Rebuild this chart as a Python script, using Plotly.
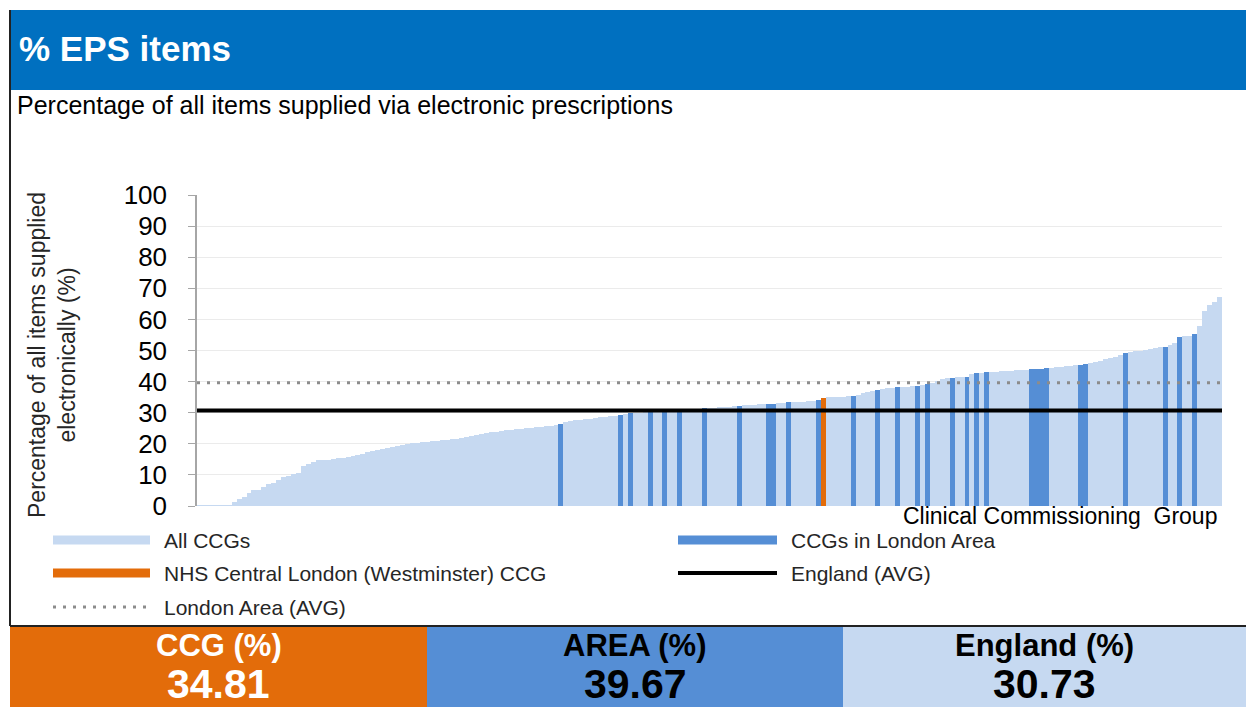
import plotly.graph_objects as go

# ---- data -------------------------------------------------------------
# % of items supplied electronically for every CCG, sorted ascending
eps_pct = [
    0.1, 0.1, 0.2, 0.2, 0.2, 0.3, 0.3, 1.4, 2.2, 3.0,
    4.1, 5.0, 5.2, 6.2, 7.2, 7.4, 8.4, 9.3, 9.6, 10.2,
    10.5, 12.9, 13.6, 14.2, 14.7, 14.8, 14.9, 15.1, 15.3, 15.5,
    15.7, 16.2, 16.4, 16.6, 17.3, 17.6, 18.1, 18.3, 18.6, 18.9,
    19.4, 19.7, 19.9, 20.1, 20.3, 20.5, 20.6, 20.8, 21.0, 21.1,
    21.3, 21.5, 21.7, 22.0, 22.3, 22.6, 22.9, 23.2, 23.4, 23.7,
    23.9, 24.2, 24.3, 24.5, 24.6, 24.8, 25.0, 25.1, 25.3, 25.5,
    25.6, 25.8, 26.0, 26.3, 26.9, 27.3, 27.5, 27.7, 27.9, 28.1,
    28.3, 28.5, 28.7, 28.9, 29.1, 29.3, 29.5, 29.8, 29.9, 30.0,
    30.1, 30.2, 30.3, 30.4, 30.5, 30.6, 30.7, 30.8, 30.9, 31.0,
    31.1, 31.2, 31.4, 31.5, 31.6, 31.7, 31.8, 31.9, 32.1, 32.3,
    32.4, 32.5, 32.6, 32.7, 32.7, 32.8, 32.9, 33.0, 33.2, 33.3,
    33.4, 33.5, 33.6, 33.8, 33.9, 34.1, 34.81, 34.9, 35.0, 35.1,
    35.2, 35.4, 35.5, 35.8, 36.2, 36.6, 37.0, 37.3, 37.5, 37.8,
    38.0, 38.2, 38.3, 38.4, 38.6, 38.7, 38.9, 39.1, 39.6, 40.2,
    40.7, 41.1, 41.3, 41.4, 41.5, 41.6, 42.3, 42.7, 42.8, 43.0,
    43.1, 43.2, 43.3, 43.4, 43.5, 43.6, 43.7, 43.8, 43.9, 44.0,
    44.2, 44.3, 44.5, 44.7, 44.8, 45.0, 45.1, 45.3, 45.5, 45.6,
    46.0, 46.3, 46.6, 47.3, 47.7, 48.0, 48.6, 49.1, 49.5, 49.7,
    49.9, 50.3, 50.6, 50.8, 51.0, 51.2, 51.9, 52.3, 54.4, 54.6,
    54.8, 55.3, 57.9, 62.7, 64.6, 65.7, 67.1,
]

# positions (in the sorted order) of the CCGs in the London area
london_idx = [73, 85, 87, 91, 94, 97, 102, 109, 115, 116, 119, 125, 126,
              132, 137, 141, 145, 147, 152, 155, 157, 159, 168, 169, 170,
              171, 178, 179, 187, 195, 198, 201]
selected_idx = 126          # NHS Central London (Westminster) CCG

ccg_value = 34.81
area_value = 39.67
england_value = 30.73

y_ticks = [0, 10, 20, 30, 40, 50, 60, 70, 80, 90, 100]

title_text = "% EPS items"
subtitle_text = "Percentage of all items supplied via electronic prescriptions"
y_title = "Percentage of all items supplied<br>electronically (%)"
x_title = "Clinical Commissioning  Group"
legend_labels = ["All CCGs", "CCGs in London Area",
                 "NHS Central London (Westminster) CCG", "England (AVG)",
                 "London Area (AVG)"]
box_labels = ["CCG (%)", "AREA (%)", "England (%)"]

# ---- styling ----------------------------------------------------------
W, H = 1246, 707
PL, PR, PT, PB = 197, 1222, 195, 506      # plot area in pixels
FONT = "Arial, Liberation Sans, sans-serif"
C_HEADER = "#0070C0"
C_ALL = "#C6D9F1"
C_LONDON = "#558ED5"
C_SEL = "#E36C0A"
C_AREA_LINE = "#8C8C8C"


def px(x):
    return (x - PL) / (PR - PL)


def py(y):
    return (PB - y) / (PB - PT)


n = len(eps_pct)
xs = list(range(n))
london_vals = [eps_pct[i] if i in london_idx and i != selected_idx else None for i in xs]
sel_vals = [eps_pct[i] if i == selected_idx else None for i in xs]

fig = go.Figure()
fig.add_trace(go.Bar(x=xs, y=eps_pct, marker=dict(color=C_ALL, line_width=0),
                     name=legend_labels[0]))
fig.add_trace(go.Bar(x=xs, y=london_vals, marker=dict(color=C_LONDON, line_width=0),
                     name=legend_labels[1]))
fig.add_trace(go.Bar(x=xs, y=sel_vals, marker=dict(color=C_SEL, line_width=0),
                     name=legend_labels[2]))
fig.add_trace(go.Scatter(x=[-0.5, n - 0.5], y=[area_value, area_value], mode="lines",
                         line=dict(color=C_AREA_LINE, width=3, dash="3px,7px"),
                         name=legend_labels[4]))
fig.add_trace(go.Scatter(x=[-0.5, n - 0.5], y=[england_value, england_value], mode="lines",
                         line=dict(color="black", width=4), name=legend_labels[3]))

shapes = []
annotations = []

# header band and frame
shapes.append(dict(type="rect", xref="paper", yref="paper", layer="below",
                   x0=px(10), x1=px(W + 5), y0=py(90), y1=py(10),
                   fillcolor=C_HEADER, line_width=0))
shapes.append(dict(type="line", xref="paper", yref="paper",
                   x0=px(10), x1=px(10), y0=py(10), y1=py(626),
                   line=dict(color="#222222", width=2)))

annotations.append(dict(text="<b>" + title_text + "</b>", xref="paper", yref="paper",
                        x=px(17), y=py(48), xanchor="left", yanchor="middle",
                        showarrow=False, font=dict(family=FONT, size=35, color="white")))
annotations.append(dict(text=subtitle_text, xref="paper", yref="paper",
                        x=px(15), y=py(105), xanchor="left", yanchor="middle",
                        showarrow=False, font=dict(family=FONT, size=25, color="black")))

# axis titles
annotations.append(dict(text=y_title, xref="paper", yref="paper", textangle=-90,
                        x=px(52), y=py(355), xanchor="center", yanchor="middle",
                        showarrow=False, align="center",
                        font=dict(family=FONT, size=23, color="#262626")))
annotations.append(dict(text=x_title, xref="paper", yref="paper",
                        x=px(1219), y=py(515.5), xanchor="right", yanchor="middle",
                        showarrow=False, font=dict(family=FONT, size=23, color="black")))

# legend
leg_font = dict(family=FONT, size=21, color="#262626")
legend_rows = [
    (53, 150, 540, "rect", C_ALL, legend_labels[0], 162),
    (53, 150, 573, "rect", C_SEL, legend_labels[2], 162),
    (53, 147, 607, "dot", C_AREA_LINE, legend_labels[4], 162),
    (678, 777, 540, "rect", C_LONDON, legend_labels[1], 789),
    (678, 777, 573, "line", "black", legend_labels[3], 789),
]
for x0, x1, yc, kind, col, label, tx in legend_rows:
    if kind == "rect":
        shapes.append(dict(type="rect", xref="paper", yref="paper",
                           x0=px(x0), x1=px(x1), y0=py(yc + 4.5), y1=py(yc - 4.5),
                           fillcolor=col, line_width=0))
    elif kind == "line":
        shapes.append(dict(type="line", xref="paper", yref="paper",
                           x0=px(x0), x1=px(x1), y0=py(yc), y1=py(yc),
                           line=dict(color=col, width=4)))
    else:
        shapes.append(dict(type="line", xref="paper", yref="paper",
                           x0=px(x0), x1=px(x1), y0=py(yc), y1=py(yc),
                           line=dict(color=col, width=3, dash="3px,7px")))
    annotations.append(dict(text=label, xref="paper", yref="paper",
                            x=px(tx), y=py(yc), xanchor="left", yanchor="middle",
                            showarrow=False, font=leg_font))

# summary boxes
box_specs = [
    (10, 427, C_SEL, "white", box_labels[0], ccg_value),
    (427, 843, C_LONDON, "black", box_labels[1], area_value),
    (843, W + 5, C_ALL, "black", box_labels[2], england_value),
]
for x0, x1, fill, tcol, label, val in box_specs:
    shapes.append(dict(type="rect", xref="paper", yref="paper",
                       x0=px(x0), x1=px(x1), y0=py(H + 5), y1=py(626),
                       fillcolor=fill, line_width=0))
    xc = (x0 + min(x1, W)) / 2
    annotations.append(dict(text="<b>" + label + "</b>", xref="paper", yref="paper",
                            x=px(xc), y=py(645), xanchor="center", yanchor="middle",
                            showarrow=False, font=dict(family=FONT, size=31, color=tcol)))
    annotations.append(dict(text="<b>" + f"{val:.2f}" + "</b>", xref="paper", yref="paper",
                            x=px(xc), y=py(683.5), xanchor="center", yanchor="middle",
                            showarrow=False, font=dict(family=FONT, size=41, color=tcol)))
shapes.append(dict(type="line", xref="paper", yref="paper",
                   x0=px(10), x1=px(W + 5), y0=py(626), y1=py(626),
                   line=dict(color="#222222", width=2)))

fig.update_layout(
    width=W, height=H,
    margin=dict(l=PL, r=W - PR, t=PT, b=H - PB, pad=0),
    paper_bgcolor="white", plot_bgcolor="white",
    barmode="overlay", bargap=0,
    showlegend=False,
    shapes=shapes, annotations=annotations,
    xaxis=dict(range=[-0.5, n - 0.5], visible=False, fixedrange=True),
    yaxis=dict(range=[0, 100], tickvals=y_ticks, ticktext=[str(v) for v in y_ticks],
               showgrid=True, gridcolor="#EBEBEB", gridwidth=1,
               showline=True, linecolor="#A6A6A6", linewidth=1.5,
               ticks="outside", ticklen=7, tickcolor="#A6A6A6",
               ticklabelstandoff=16, zeroline=False,
               tickfont=dict(family=FONT, size=26, color="black")),
)

fig.write_html("out.html")
